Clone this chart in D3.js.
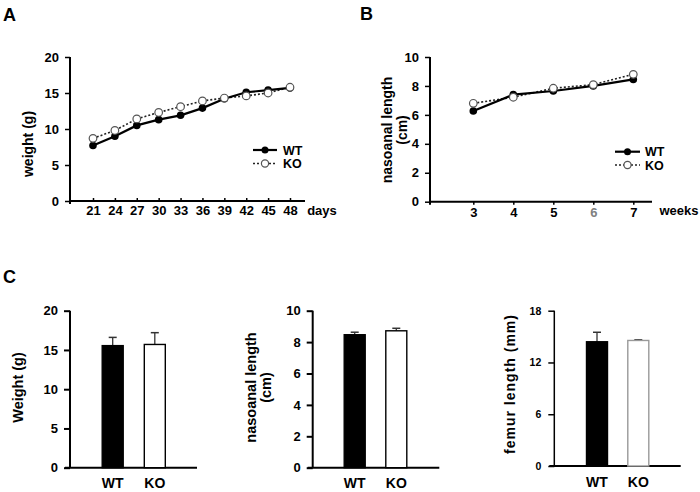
<!DOCTYPE html>
<html>
<head>
<meta charset="utf-8">
<script src="https://cdn.jsdelivr.net/npm/d3@7"></script>
<style>
  body { margin: 0; background: #fff; }
  svg { display: block; font-family: "Liberation Sans", Arial, sans-serif; font-weight: bold; }
</style>
</head>
<body>
<svg id="chart" width="700" height="492"></svg>
<script>
// ---- Data ----
const daysA = [21, 24, 27, 30, 33, 36, 39, 42, 45, 48];
const weightWT = [7.7, 9.0, 10.5, 11.3, 11.9, 12.9, 14.2, 15.1, 15.4, 15.7];
const weightKO = [8.7, 9.8, 11.4, 12.3, 13.1, 13.9, 14.3, 14.6, 15.0, 15.8];
const weightTicks = [0, 5, 10, 15, 20];

const weeksB = [3, 4, 5, 6, 7];
const lengthWT = [6.27, 7.4, 7.65, 8.0, 8.45];
const lengthKO = [6.8, 7.22, 7.84, 8.09, 8.8];
const lengthTicks = [0, 2, 4, 6, 8, 10];

const groups = ["WT", "KO"];
const barWeight = [15.55, 15.7];
const barWeightErr = [1.05, 1.5];
const barLength = [8.47, 8.72];
const barLengthErr = [0.16, 0.16];
const barFemur = [14.4, 14.55];
const barFemurErr = [1.1, 0.07];
const femurTicks = [0, 6, 12, 18];

const svg = d3.select("#chart");
const fmt = d3.format("d");

// ---- Panel letters ----
svg.append("text").attr("x", 3).attr("y", 20.5).attr("font-size", 18).text("A");
svg.append("text").attr("x", 360).attr("y", 20).attr("font-size", 18).text("B");
svg.append("text").attr("x", 3).attr("y", 283).attr("font-size", 18).text("C");

function styleAxis(g, w) {
  g.selectAll(".domain").remove();
  g.selectAll(".tick line").attr("stroke", "#000").attr("stroke-width", w || 1.5);
  g.selectAll(".tick text").attr("font-family", "Liberation Sans, Arial, sans-serif")
    .attr("font-weight", "bold").attr("fill", "#000");
}

function lineChart(opt) {
  const g = svg.append("g");
  const x = d3.scaleLinear().domain(opt.xDomain).range(opt.xRange);
  const y = d3.scaleLinear().domain(opt.yDomain).range(opt.yRange);
  // axis lines
  g.append("line").attr("x1", opt.axisX).attr("x2", opt.axisX)
    .attr("y1", opt.yRange[1]).attr("y2", opt.yRange[0] + 3)
    .attr("stroke", "#000").attr("stroke-width", 2);
  g.append("line").attr("x1", opt.axisX).attr("x2", opt.xEnd)
    .attr("y1", opt.yRange[0]).attr("y2", opt.yRange[0])
    .attr("stroke", "#000").attr("stroke-width", 2);
  // y axis
  const ya = g.append("g").attr("transform", `translate(${opt.axisX},0)`)
    .call(d3.axisLeft(y).tickValues(opt.yTicks).tickFormat(fmt).tickSize(5).tickPadding(6));
  styleAxis(ya);
  ya.selectAll(".tick text").attr("font-size", 13);
  // x axis
  const xa = g.append("g").attr("transform", `translate(0,${opt.yRange[0]})`)
    .call(d3.axisBottom(x).tickValues(opt.xTicks).tickFormat(fmt).tickSize(opt.xTickSize).tickPadding(opt.xTickPad));
  styleAxis(xa);
  xa.selectAll(".tick text").attr("font-size", 13);
  if (opt.grayTick != null) {
    xa.selectAll(".tick text").filter(d => d === opt.grayTick).attr("fill", "#808080");
  }
  g.append("text").attr("x", opt.unitX).attr("y", opt.unitY)
    .attr("text-anchor", "middle").attr("font-size", 13).text(opt.unit);
  // y label
  opt.yLabel.forEach((t, i) => {
    g.append("text")
      .attr("transform", `translate(${opt.yLabelX[i]},${opt.yLabelY}) rotate(-90)`)
      .attr("text-anchor", "middle").attr("font-size", 14).text(t);
  });
  // lines
  const line = d3.line().x(d => x(d[0])).y(d => y(d[1]));
  const wt = opt.xs.map((d, i) => [d, opt.wt[i]]);
  const ko = opt.xs.map((d, i) => [d, opt.ko[i]]);
  g.append("path").datum(ko).attr("d", line).attr("fill", "none")
    .attr("stroke", "#222").attr("stroke-width", 1.6).attr("stroke-dasharray", "2,2");
  g.append("path").datum(wt).attr("d", line).attr("fill", "none")
    .attr("stroke", "#000").attr("stroke-width", 2.2);
  g.selectAll(".wt").data(wt).enter().append("circle")
    .attr("cx", d => x(d[0])).attr("cy", d => y(d[1])).attr("r", 3.8).attr("fill", "#000");
  g.selectAll(".ko").data(ko).enter().append("circle")
    .attr("cx", d => x(d[0])).attr("cy", d => y(d[1])).attr("r", 3.8)
    .attr("fill", "#fff").attr("stroke", "#555").attr("stroke-width", 1.2);
  // legend
  const L = opt.legend;
  g.append("line").attr("x1", L.x1).attr("x2", L.x2).attr("y1", L.y1).attr("y2", L.y1)
    .attr("stroke", "#000").attr("stroke-width", 2.2);
  g.append("circle").attr("cx", (L.x1 + L.x2) / 2).attr("cy", L.y1).attr("r", 3.5).attr("fill", "#000");
  g.append("line").attr("x1", L.x1).attr("x2", L.x2).attr("y1", L.y2).attr("y2", L.y2)
    .attr("stroke", "#222").attr("stroke-width", 1.6).attr("stroke-dasharray", "2,2");
  g.append("circle").attr("cx", (L.x1 + L.x2) / 2).attr("cy", L.y2).attr("r", 3.6)
    .attr("fill", "#fff").attr("stroke", "#555").attr("stroke-width", 1.2);
  g.append("text").attr("x", L.tx).attr("y", L.y1 + 4.5).attr("font-size", 12.5).text("WT");
  g.append("text").attr("x", L.tx).attr("y", L.y2 + 4.5).attr("font-size", 12.5).text("KO");
}

lineChart({
  xs: daysA, wt: weightWT, ko: weightKO,
  xDomain: [21, 48], xRange: [93, 290], yDomain: [0, 20], yRange: [201, 57],
  axisX: 70, xEnd: 305, yTicks: weightTicks, xTicks: daysA,
  xTickSize: -3, xTickPad: 4.5, unit: "days", unitX: 322, unitY: 214.5,
  yLabel: ["weight (g)"], yLabelX: [32.5], yLabelY: 144,
  legend: { x1: 253, x2: 277, y1: 150, y2: 163.5, tx: 283 }
});

lineChart({
  xs: weeksB, wt: lengthWT, ko: lengthKO,
  xDomain: [3, 7], xRange: [473.3, 633.3], yDomain: [0, 10], yRange: [201.7, 57],
  axisX: 430, xEnd: 652, yTicks: lengthTicks, xTicks: weeksB,
  xTickSize: 3, xTickPad: 3, unit: "weeks", unitX: 679, unitY: 215, grayTick: 6,
  yLabel: ["nasoanal length", "(cm)"], yLabelX: [392, 407], yLabelY: 130,
  legend: { x1: 615, x2: 640, y1: 151.7, y2: 165, tx: 645 }
});

// ---- Bar charts ----
function barChart(opt) {
  const g = svg.append("g");
  const x = d3.scalePoint().domain(groups).range(opt.centers);
  const y = d3.scaleLinear().domain(opt.yDomain).range(opt.yRange);
  const bw = 21;
  g.append("line").attr("x1", opt.axisX).attr("x2", opt.axisX)
    .attr("y1", opt.yRange[1]).attr("y2", opt.yRange[0])
    .attr("stroke", "#000").attr("stroke-width", opt.axisW);
  g.append("line").attr("x1", opt.axisX - 5).attr("x2", opt.xEnd)
    .attr("y1", opt.yRange[0]).attr("y2", opt.yRange[0])
    .attr("stroke", "#000").attr("stroke-width", 2);
  const ya = g.append("g").attr("transform", `translate(${opt.axisX},0)`)
    .call(d3.axisLeft(y).tickValues(opt.yTicks).tickFormat(fmt).tickSize(6).tickPadding(opt.tickPad));
  styleAxis(ya, opt.axisW);
  ya.selectAll(".tick text").attr("font-size", opt.tickFont);
  // error bars
  groups.forEach((k, i) => {
    const cx = x(k);
    const top = y(opt.values[i] + opt.errs[i]);
    g.append("line").attr("x1", cx).attr("x2", cx).attr("y1", y(opt.values[i])).attr("y2", top)
      .attr("stroke", "#333").attr("stroke-width", 1.3);
    g.append("line").attr("x1", cx - 4).attr("x2", cx + 4).attr("y1", top).attr("y2", top)
      .attr("stroke", "#333").attr("stroke-width", 1.5);
  });
  // bars
  g.selectAll(".bar").data(groups).enter().append("rect")
    .attr("x", d => x(d) - bw / 2)
    .attr("y", (d, i) => y(opt.values[i]))
    .attr("width", bw)
    .attr("height", (d, i) => y(0) - y(opt.values[i]))
    .attr("fill", (d, i) => i === 0 ? "#000" : "#fff")
    .attr("stroke", (d, i) => i === 0 ? "#000" : opt.koStroke)
    .attr("stroke-width", 1.4);
  // x labels
  g.selectAll(".xl").data(groups).enter().append("text")
    .attr("x", d => x(d)).attr("y", opt.yRange[0] + 20.5)
    .attr("text-anchor", "middle").attr("font-size", 14).text(d => d);
  opt.yLabel.forEach((t, i) => {
    g.append("text")
      .attr("transform", `translate(${opt.yLabelX[i]},${opt.yLabelY}) rotate(-90)`)
      .attr("text-anchor", "middle").attr("font-size", opt.labelFont)
      .attr("letter-spacing", opt.letterSpacing || 0).text(t);
  });
}

barChart({
  values: barWeight, errs: barWeightErr, centers: [112.7, 154.8],
  yDomain: [0, 20], yRange: [467.7, 310.7], yTicks: weightTicks,
  axisX: 70, xEnd: 197, axisW: 2, tickFont: 13, tickPad: 6, koStroke: "#000",
  yLabel: ["Weight (g)"], yLabelX: [23], yLabelY: 387.5, labelFont: 14.5
});

barChart({
  values: barLength, errs: barLengthErr, centers: [354.7, 396.3],
  yDomain: [0, 10], yRange: [467.7, 310.7], yTicks: lengthTicks,
  axisX: 312.7, xEnd: 439.3, axisW: 2, tickFont: 13, tickPad: 6, koStroke: "#000",
  yLabel: ["nasoanal length", "(cm)"], yLabelX: [255.5, 271], yLabelY: 387.5, labelFont: 14.5
});

barChart({
  values: barFemur, errs: barFemurErr, centers: [597, 638.3],
  yDomain: [0, 18], yRange: [466, 310.7], yTicks: femurTicks,
  axisX: 554.3, xEnd: 680.7, axisW: 1.5, tickFont: 10.5, tickPad: 7, koStroke: "#999",
  yLabel: ["femur length (mm)"], yLabelX: [515], yLabelY: 384, labelFont: 14, letterSpacing: 1
});
</script>
</body>
</html>
